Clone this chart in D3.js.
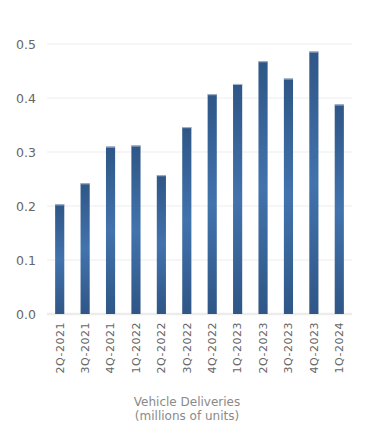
<!DOCTYPE html>
<html><head><meta charset="utf-8">
<script src="https://cdn.jsdelivr.net/npm/d3@7"></script>
<style>body{margin:0;background:#fff;}svg{display:block;font-family:"DejaVu Sans",sans-serif;}</style>
</head><body>
<svg id="c" width="375" height="445"></svg>
<script>
const categories = ["2Q-2021","3Q-2021","4Q-2021","1Q-2022","2Q-2022","3Q-2022","4Q-2022","1Q-2023","2Q-2023","3Q-2023","4Q-2023","1Q-2024"];
const deliveries = [0.203,0.242,0.310,0.312,0.257,0.346,0.407,0.426,0.468,0.436,0.486,0.388];
const yTicks = [0,0.1,0.2,0.3,0.4,0.5];
const titleLines = ["Vehicle Deliveries","(millions of units)"];

const svg = d3.select("#c");
const x = d3.scaleBand().domain(categories).range([47,352]).paddingInner(0.64).paddingOuter(0.32);
const y = d3.scaleLinear().domain([0,0.5]).range([314,44]);

const defs = svg.append("defs");
const g = defs.append("linearGradient").attr("id","bg").attr("x1",0).attr("y1",0).attr("x2",0).attr("y2",1);
g.append("stop").attr("offset","0%").attr("stop-color","#2f5686");
g.append("stop").attr("offset","50%").attr("stop-color","#4273ad");
g.append("stop").attr("offset","100%").attr("stop-color","#2f5686");

// gridlines
svg.append("g").selectAll("line").data(yTicks).join("line")
  .attr("x1",47).attr("x2",352).attr("y1",d=>y(d)).attr("y2",d=>y(d))
  .attr("stroke",d=>d===0?"#ececec":"#f3f3f3").attr("stroke-width",d=>d===0?2.5:1.5);

// y labels
const yAxis = d3.axisLeft(y).tickValues(yTicks).tickFormat(d3.format(".1f")).tickSize(0).tickPadding(0);
const ya = svg.append("g").attr("transform","translate(36,0)").call(yAxis);
ya.select(".domain").remove();
ya.selectAll("text").attr("fill","#666").attr("font-size","12.5px").attr("font-family","DejaVu Sans,sans-serif");

// bars
svg.append("g").selectAll("rect").data(deliveries).join("rect")
  .attr("x",(d,i)=>x(categories[i])).attr("width",x.bandwidth())
  .attr("y",d=>y(d)).attr("height",d=>y(0)-y(d))
  .attr("fill","url(#bg)");
svg.append("g").selectAll("line").data(deliveries).join("line")
  .attr("x1",(d,i)=>x(categories[i])).attr("x2",(d,i)=>x(categories[i])+x.bandwidth())
  .attr("y1",d=>y(d)+0.5).attr("y2",d=>y(d)+0.5)
  .attr("stroke","#a9b9d0").attr("stroke-width",1);

// x labels
const xAxis = d3.axisBottom(x).tickSize(0).tickPadding(0);
const xa = svg.append("g").attr("transform","translate(0,322)").call(xAxis);
xa.select(".domain").remove();
xa.selectAll("text").attr("transform","rotate(-90)").attr("text-anchor","end")
  .attr("x",0).attr("y",0).attr("dy","0.35em").attr("dx","0")
  .attr("fill","#666").attr("font-size","11px").attr("font-family","DejaVu Sans,sans-serif").attr("letter-spacing","0.5px");

// title
svg.append("g").selectAll("text").data(titleLines).join("text")
  .attr("x",187).attr("y",(d,i)=>406+i*14).attr("text-anchor","middle")
  .attr("fill","#8a8a8a").attr("font-size","12px").text(d=>d);
</script>
</body></html>
